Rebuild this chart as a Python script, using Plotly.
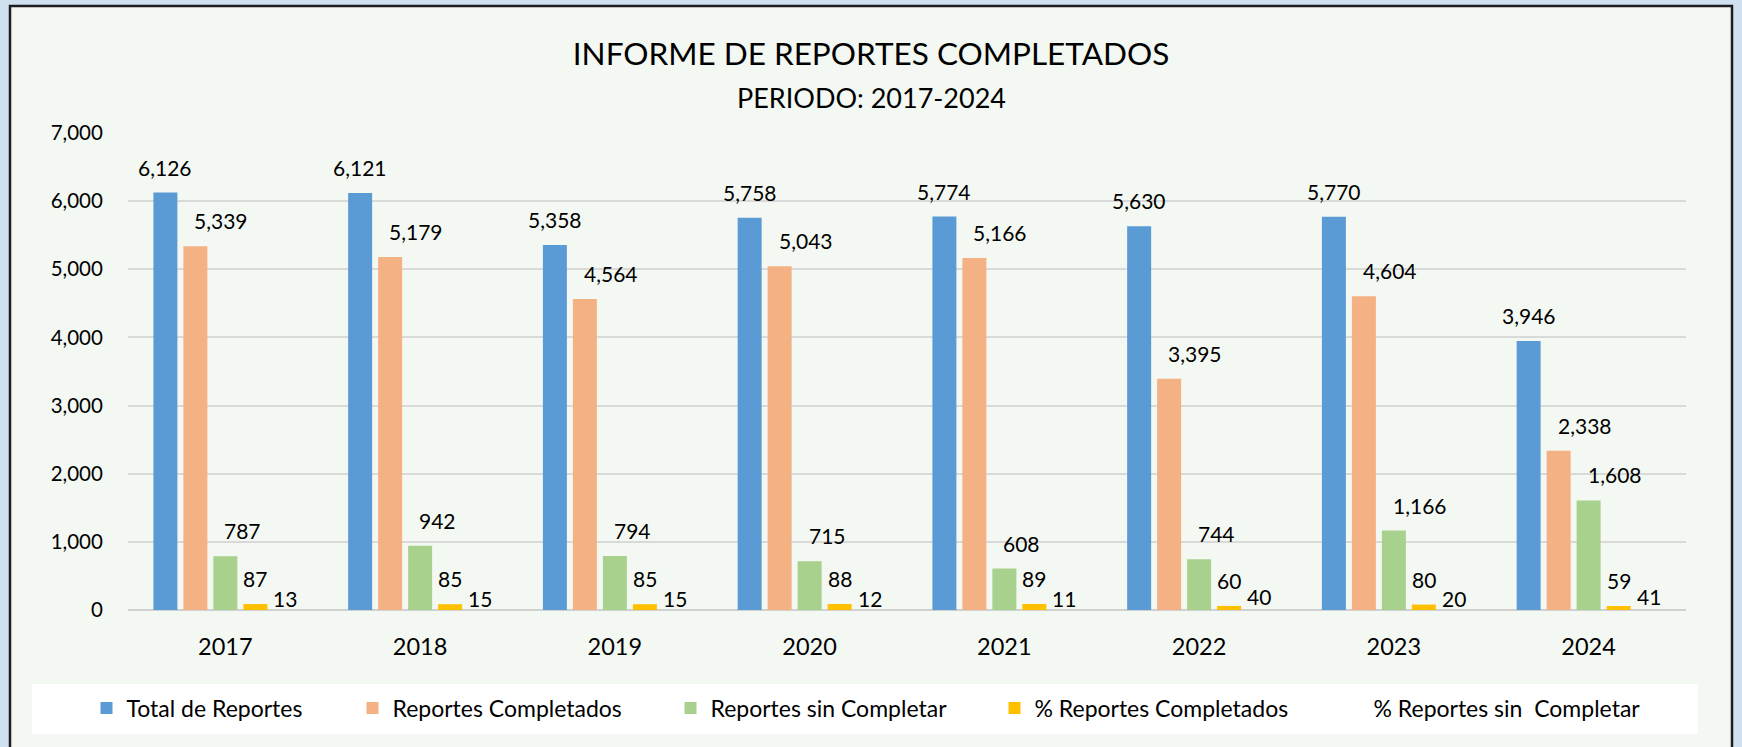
import plotly.graph_objects as go

# ---------------- data ----------------
years = ["2017", "2018", "2019", "2020", "2021", "2022", "2023", "2024"]
total_reportes = [6126, 6121, 5358, 5758, 5774, 5630, 5770, 3946]
reportes_completados = [5339, 5179, 4564, 5043, 5166, 3395, 4604, 2338]
reportes_sin_completar = [787, 942, 794, 715, 608, 744, 1166, 1608]
pct_completados = [87, 85, 85, 88, 89, 60, 80, 59]
pct_sin_completar = [13, 15, 15, 12, 11, 40, 20, 41]

series_names = ["Total de Reportes", "Reportes Completados", "Reportes sin Completar",
                "% Reportes Completados", "% Reportes sin\u00a0 Completar"]
series_values = [total_reportes, reportes_completados, reportes_sin_completar,
                 pct_completados, pct_sin_completar]
series_colors = ["#5B9BD5", "#F4B183", "#A9D18E", "#FFC000", "rgba(0,0,0,0)"]

# ---------------- layout constants ----------------
W, H = 1742, 747
L, R, T, B = 128, 56, 133, 137
PW, PH = W - L - R, H - T - B
BARGAP = 0.23
BARGROUPGAP = 0.2
FONT = "Lato"

def px_x(px):
    return (px - L) / PW

def px_y(py):
    return (H - B - py) / PH

fig = go.Figure()
legend_ids = ["legend", "legend2", "legend3", "legend4", "legend5"]
for i, (name, vals, col) in enumerate(zip(series_names, series_values, series_colors)):
    fig.add_trace(go.Bar(
        x=years, y=vals, name=name,
        marker=dict(color=col, line=dict(width=0)),
        legend=legend_ids[i],
        hoverinfo="x+y+name",
    ))

# data labels (x given as the category index on the category axis)
cat_w = PW / len(years)
slot = (1 - BARGAP) * cat_w / len(series_names)
label_anchor = ["center", "left", "left", "center", "center"]
label_dx = [0, -3, -3, 0, 0]
label_dy = [11, 11, 11, 11, -4]
annotations = []
for i, vals in enumerate(series_values):
    for j, v in enumerate(vals):
        annotations.append(dict(
            x=j, y=v, xref="x", yref="y", text=f"{v:,}", showarrow=False,
            xanchor=label_anchor[i], yanchor="bottom",
            xshift=(i - 2) * slot + label_dx[i], yshift=label_dy[i],
            font=dict(family=FONT, size=21, color="#000000"),
        ))

# subtitle
annotations.append(dict(
    x=px_x(871), y=px_y(98), xref="paper", yref="paper", showarrow=False,
    text="PERIODO: 2017-2024", xanchor="center", yanchor="middle",
    font=dict(family=FONT, size=27, color="#000000"),
))

shapes = [
    # chart frame
    dict(type="rect", xref="paper", yref="paper", layer="below",
         x0=px_x(10), x1=px_x(1732), y0=px_y(760), y1=px_y(6),
         fillcolor="#F4F8F2", line=dict(color="#1E1E1E", width=2.5)),
    # legend box
    dict(type="rect", xref="paper", yref="paper", layer="below",
         x0=px_x(32), x1=px_x(1698), y0=px_y(734), y1=px_y(684),
         fillcolor="#FFFFFF", line=dict(width=0)),
]

legend_text_start = [128, 394, 712, 1036, 1375]
layout_legends = {}
for lid, tx in zip(legend_ids, legend_text_start):
    layout_legends[lid] = dict(
        x=px_x(tx - 41.5), y=px_y(708), xanchor="left", yanchor="middle",
        orientation="h", bgcolor="rgba(0,0,0,0)", borderwidth=0,
        font=dict(family=FONT, size=23, color="#000000"),
    )

fig.update_layout(
    width=W, height=H,
    margin=dict(l=L, r=R, t=T, b=B, pad=0),
    paper_bgcolor="#CFE0F1",
    plot_bgcolor="#FFFFFF",
    barmode="group", bargap=BARGAP, bargroupgap=BARGROUPGAP,
    title=dict(text="INFORME DE REPORTES COMPLETADOS", x=px_x(871), xref="paper",
               xanchor="center", y=1 - 54 / H, yref="container", yanchor="middle",
               font=dict(family=FONT, size=31.5, color="#000000")),
    font=dict(family=FONT, color="#000000"),
    showlegend=True,
    shapes=shapes,
    annotations=annotations,
    **layout_legends,
)
fig.update_yaxes(range=[0, 7000], dtick=1000, tickformat=",", showgrid=True,
                 gridcolor="#D9D9D9", gridwidth=1.5, zeroline=True, zerolinecolor="#D0D0D0",
                 zerolinewidth=2, ticks="outside", ticklen=20, tickcolor="rgba(0,0,0,0)",
                 tickfont=dict(family=FONT, size=20.5, color="#000000"), showline=False)
fig.update_xaxes(type="category", categoryorder="array", categoryarray=years,
                 range=[-0.5, len(years) - 0.5], showgrid=False, ticks="outside", ticklen=16,
                 tickcolor="rgba(0,0,0,0)",
                 tickfont=dict(family=FONT, size=23.5, color="#000000"), showline=False)

fig.write_html("out.html",
               config={"displayModeBar": False},
               post_script="document.body.style.margin='0px';document.body.style.overflow='hidden';")
